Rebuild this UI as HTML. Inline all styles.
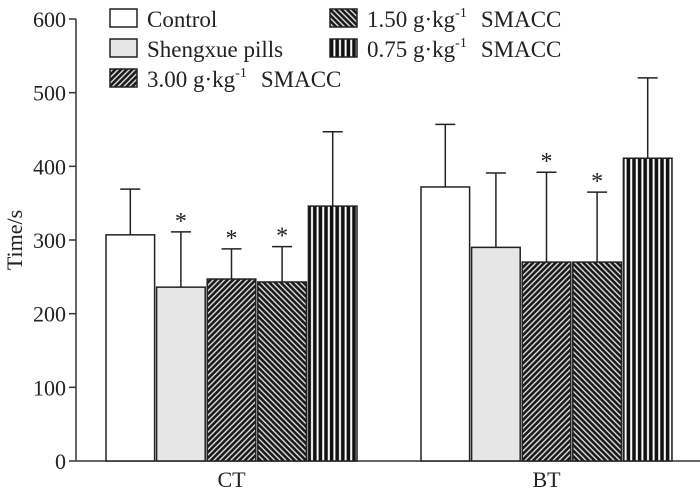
<!DOCTYPE html>
<html><head><meta charset="utf-8"><style>
body{margin:0;background:#fff}
svg{display:block;font-family:"Liberation Serif",serif}
</style></head><body>
<svg id="chart" width="700" height="490" viewBox="0 0 700 490">
<defs>
<pattern id="p-d1" width="4" height="4" patternUnits="userSpaceOnUse" patternTransform="rotate(45)">
<rect width="4" height="4" fill="#1a1a1a"/><rect x="0" width="1.4" height="4" fill="#ddd"/></pattern>
<pattern id="p-d2" width="4" height="4" patternUnits="userSpaceOnUse" patternTransform="rotate(-45)">
<rect width="4" height="4" fill="#1a1a1a"/><rect x="0" width="1.4" height="4" fill="#ddd"/></pattern>
<pattern id="p-v" width="5.6" height="10" patternUnits="userSpaceOnUse">
<rect width="5.6" height="10" fill="#111"/><rect x="3" width="2" height="10" fill="#fff"/></pattern>
</defs>
<g id="axes"></g>
<g id="bars"></g>
<g id="legend"></g>
</svg>
<script>
const categories=["CT","BT"];
const seriesNames=["Control","Shengxue pills","3.00","1.50","0.75"];
const meanCT=[307,236,247,243,346];
const meanBT=[372,290,270,270,411];
const errCT=[369,311,288,291,447];
const errBT=[457,391,392,365,520];
const sigCT=[false,true,true,true,false];
const sigBT=[false,false,true,true,false];
const yTicks=[0,100,200,300,400,500,600];

const NS="http://www.w3.org/2000/svg";
const fills=["#fff","#e6e6e6","url(#p-d1)","url(#p-d2)","url(#p-v)"];
const y0=461,yTop=19,x0=76;
const y=v=>y0-(v/600)*(y0-yTop);
const groupStart=[105,420],barW=50.6;
const bx=(g,i)=>groupStart[g]+i*barW;
function mk(t,a,p){const e=document.createElementNS(NS,t);for(const k in a)e.setAttribute(k,a[k]);p.appendChild(e);return e;}
const ax=document.getElementById('axes'),bars=document.getElementById('bars'),lg=document.getElementById('legend');

let l=mk('line',{x1:x0,y1:yTop,x2:x0,y2:y0,stroke:'#333','stroke-width':1.5},ax);


l=mk('line',{x1:x0,y1:y0,x2:700,y2:y0,stroke:'#333','stroke-width':1.5},ax);


yTicks.forEach(v=>{
 mk('line',{x1:x0-7,y1:y(v),x2:x0,y2:y(v),stroke:'#333','stroke-width':1.5},ax);
 const t=mk('text',{x:x0-10,y:y(v)+8,'text-anchor':'end','font-size':22,fill:'#222'},ax);
 t.textContent=v;
 
 
});
let tt=mk('text',{x:0,y:0,transform:'translate(22,240) rotate(-90)','text-anchor':'middle','font-size':22,fill:'#222'},ax);
tt.textContent='Time/s';



const means=[meanCT,meanBT],errs=[errCT,errBT],sigs=[sigCT,sigBT];
categories.forEach((c,g)=>{
 means[g].forEach((m,i)=>{
  const x=bx(g,i),cx=x+barW/2;
  const eb=mk('line',{x1:cx,y1:y(m),x2:cx,y2:y(errs[g][i]),stroke:'#222','stroke-width':1.5},bars);
  
  
  mk('line',{x1:cx-10,y1:y(errs[g][i]),x2:cx+10,y2:y(errs[g][i]),stroke:'#222','stroke-width':1.5},bars);
  const r=mk('rect',{x:x+1,y:y(m),width:barW-2,height:y0-y(m),fill:fills[i],stroke:'#222','stroke-width':1.5},bars);
  
  
  if(sigs[g][i]){
   const s=mk('text',{x:cx,y:y(errs[g][i])-3,'text-anchor':'middle','font-size':24,fill:'#222'},bars);
   s.textContent='*';
   
   
  }
 });
 const xl=mk('text',{x:groupStart[g]+barW*2.5,y:487,'text-anchor':'middle','font-size':22,fill:'#222'},ax);
 xl.textContent=c;
 
 
});

const legPos=[[110,9],[110,39],[110,69],[330,9],[330,39]];
legPos.forEach((p,i)=>{
 const r=mk('rect',{x:p[0],y:p[1],width:27,height:18,fill:fills[i],stroke:'#222','stroke-width':1.5},lg);
 
 
 const t=mk('text',{x:p[0]+37,y:p[1]+18,'font-size':23,fill:'#222'},lg);
 
 
 if(i<2){t.textContent=seriesNames[i];}
 else{t.innerHTML=seriesNames[i]+' g·kg<tspan dy="-10" font-size="14">-1</tspan><tspan dy="10" dx="14">SMACC</tspan>';}
});
</script>
</body></html>
